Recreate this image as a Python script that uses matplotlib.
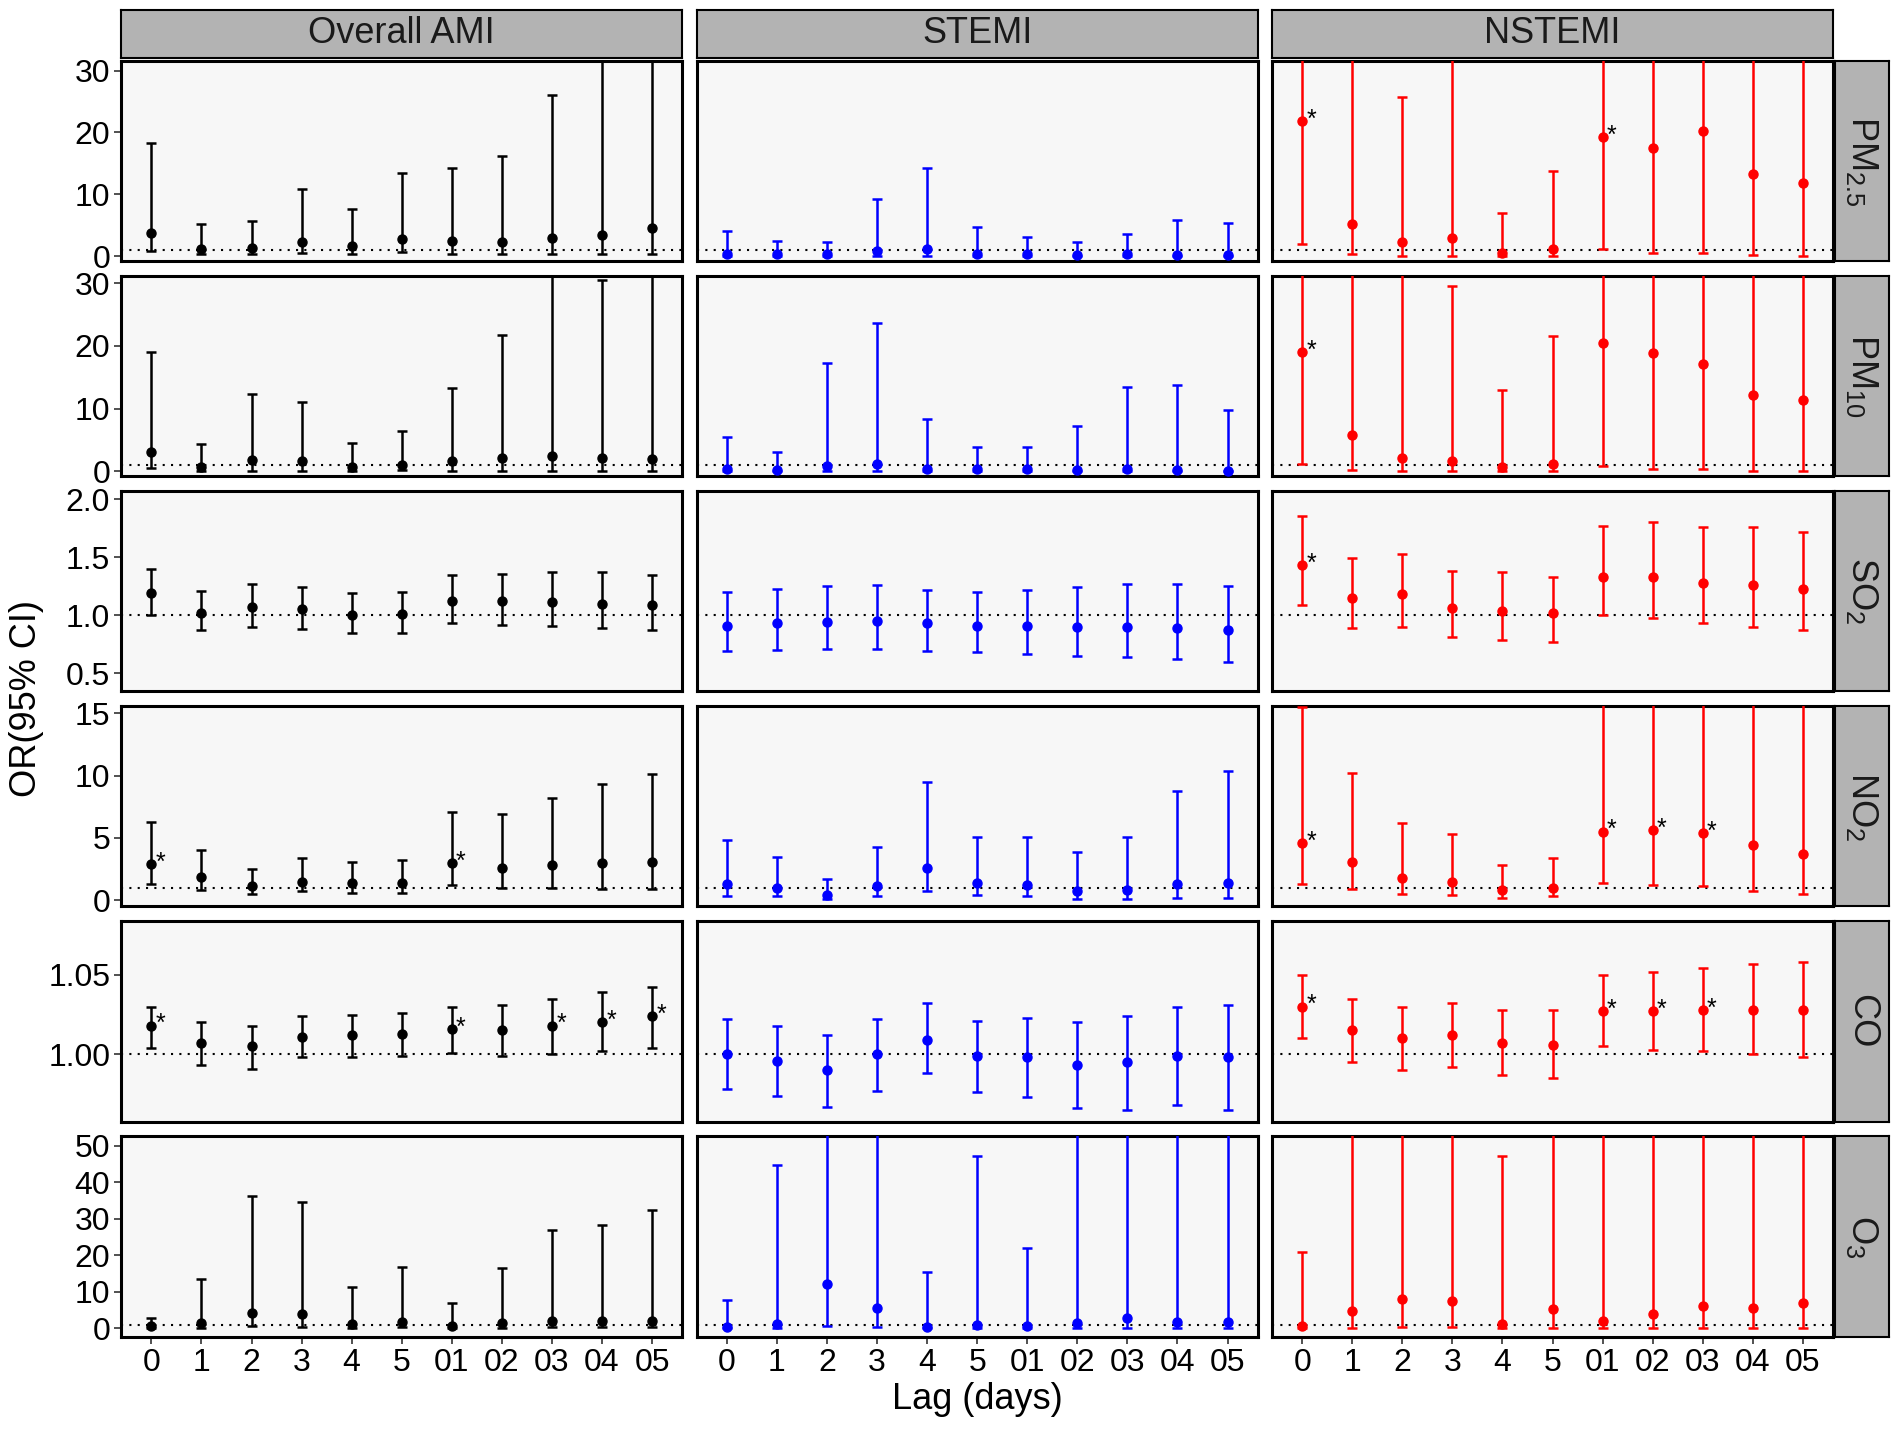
import numpy as np
import matplotlib
matplotlib.use("Agg")
import matplotlib.pyplot as plt

plt.rcParams['font.family'] = ['Liberation Sans', 'DejaVu Sans']
plt.rcParams['mathtext.default'] = 'regular'

lags = ['0', '1', '2', '3', '4', '5', '01', '02', '03', '04', '05']
groups = ['Overall AMI', 'STEMI', 'NSTEMI']
group_colors = ['black', '#0000FF', '#FF0000']
pollutants = ['PM$_{2.5}$', 'PM$_{10}$', 'SO$_{2}$', 'NO$_{2}$', 'CO', 'O$_{3}$']

# ---- PM2.5 ----
pm25_ami_or = [3.8, 1.2, 1.3, 2.3, 1.6, 2.8, 2.5, 2.3, 3.0, 3.4, 4.6]
pm25_ami_lo = [0.8, 0.3, 0.3, 0.5, 0.3, 0.6, 0.4, 0.3, 0.3, 0.3, 0.4]
pm25_ami_hi = [18.3, 5.2, 5.7, 10.8, 7.6, 13.5, 14.3, 16.2, 26.0, 45.0, 50.0]
pm25_st_or = [0.4, 0.3, 0.3, 0.8, 1.2, 0.4, 0.3, 0.2, 0.3, 0.2, 0.2]
pm25_st_lo = [0.05, 0.05, 0.05, 0.1, 0.1, 0.05, 0.03, 0.02, 0.02, 0.01, 0.01]
pm25_st_hi = [4.0, 2.5, 2.3, 9.3, 14.3, 4.7, 3.1, 2.3, 3.6, 5.9, 5.3]
pm25_nst_or = [21.8, 5.2, 2.3, 2.9, 0.5, 1.1, 19.2, 17.5, 20.3, 13.3, 11.8]
pm25_nst_lo = [2.0, 0.3, 0.1, 0.1, 0.05, 0.1, 1.2, 0.5, 0.5, 0.2, 0.1]
pm25_nst_hi = [60.0, 40.0, 25.8, 45.0, 7.0, 13.8, 60.0, 55.0, 60.0, 50.0, 48.0]

# ---- PM10 ----
pm10_ami_or = [3.1, 0.7, 1.8, 1.6, 0.6, 1.0, 1.6, 2.1, 2.5, 2.1, 2.0]
pm10_ami_lo = [0.5, 0.1, 0.1, 0.1, 0.1, 0.2, 0.1, 0.1, 0.1, 0.1, 0.1]
pm10_ami_hi = [19.0, 4.3, 12.3, 11.0, 4.5, 6.4, 13.3, 21.8, 40.0, 30.5, 38.0]
pm10_st_or = [0.3, 0.2, 0.8, 1.1, 0.4, 0.3, 0.3, 0.2, 0.3, 0.2, 0.1]
pm10_st_lo = [0.02, 0.01, 0.05, 0.05, 0.02, 0.02, 0.02, 0.01, 0.01, 0.01, 0.01]
pm10_st_hi = [5.5, 3.0, 17.2, 23.6, 8.4, 3.8, 3.9, 7.2, 13.5, 13.8, 9.8]
pm10_nst_or = [19.0, 5.8, 2.1, 1.6, 0.7, 1.2, 20.5, 18.9, 17.1, 12.2, 11.4]
pm10_nst_lo = [1.2, 0.2, 0.05, 0.05, 0.05, 0.05, 0.8, 0.4, 0.3, 0.1, 0.05]
pm10_nst_hi = [60.0, 45.0, 40.0, 29.6, 13.0, 21.6, 60.0, 55.0, 55.0, 50.0, 50.0]

# ---- SO2 ----
so2_ami_or = [1.19, 1.02, 1.07, 1.05, 1.00, 1.01, 1.12, 1.12, 1.11, 1.10, 1.09]
so2_ami_lo = [1.00, 0.87, 0.90, 0.88, 0.85, 0.85, 0.93, 0.92, 0.91, 0.89, 0.87]
so2_ami_hi = [1.40, 1.21, 1.27, 1.24, 1.19, 1.20, 1.35, 1.36, 1.37, 1.37, 1.35]
so2_st_or = [0.91, 0.93, 0.94, 0.95, 0.93, 0.91, 0.91, 0.90, 0.90, 0.89, 0.87]
so2_st_lo = [0.69, 0.70, 0.71, 0.71, 0.69, 0.68, 0.67, 0.65, 0.64, 0.62, 0.60]
so2_st_hi = [1.20, 1.23, 1.25, 1.26, 1.22, 1.20, 1.22, 1.24, 1.27, 1.27, 1.25]
so2_nst_or = [1.43, 1.15, 1.18, 1.06, 1.04, 1.02, 1.33, 1.33, 1.28, 1.26, 1.23]
so2_nst_lo = [1.09, 0.89, 0.90, 0.81, 0.79, 0.77, 1.00, 0.98, 0.93, 0.90, 0.87]
so2_nst_hi = [1.86, 1.49, 1.53, 1.38, 1.37, 1.33, 1.77, 1.80, 1.76, 1.76, 1.72]

# ---- NO2 ----
no2_ami_or = [2.9, 1.9, 1.1, 1.5, 1.4, 1.4, 3.0, 2.6, 2.8, 3.0, 3.1]
no2_ami_lo = [1.3, 0.8, 0.5, 0.7, 0.6, 0.6, 1.2, 1.0, 1.0, 0.9, 0.9]
no2_ami_hi = [6.3, 4.0, 2.5, 3.4, 3.1, 3.2, 7.1, 6.9, 8.2, 9.3, 10.1]
no2_st_or = [1.3, 1.0, 0.4, 1.1, 2.6, 1.4, 1.2, 0.7, 0.8, 1.3, 1.4]
no2_st_lo = [0.3, 0.3, 0.1, 0.3, 0.7, 0.4, 0.3, 0.1, 0.1, 0.2, 0.2]
no2_st_hi = [4.8, 3.5, 1.7, 4.3, 9.5, 5.1, 5.1, 3.9, 5.1, 8.8, 10.4]
no2_nst_or = [4.6, 3.1, 1.8, 1.5, 0.8, 1.0, 5.5, 5.6, 5.4, 4.4, 3.7]
no2_nst_lo = [1.3, 0.9, 0.5, 0.4, 0.2, 0.3, 1.4, 1.2, 1.1, 0.7, 0.5]
no2_nst_hi = [15.5, 10.2, 6.2, 5.3, 2.8, 3.4, 22.0, 25.0, 26.0, 27.0, 26.0]

# ---- CO ----
co_ami_or = [1.018, 1.007, 1.005, 1.011, 1.012, 1.013, 1.016, 1.015, 1.018, 1.020, 1.024]
co_ami_lo = [1.004, 0.993, 0.991, 0.998, 0.998, 0.999, 1.001, 0.999, 1.000, 1.002, 1.004]
co_ami_hi = [1.030, 1.020, 1.018, 1.024, 1.025, 1.026, 1.030, 1.031, 1.035, 1.039, 1.042]
co_st_or = [1.000, 0.996, 0.990, 1.000, 1.009, 0.999, 0.998, 0.993, 0.995, 0.999, 0.998]
co_st_lo = [0.978, 0.974, 0.967, 0.977, 0.988, 0.976, 0.973, 0.966, 0.965, 0.968, 0.965]
co_st_hi = [1.022, 1.018, 1.012, 1.022, 1.032, 1.021, 1.023, 1.020, 1.024, 1.030, 1.031]
co_nst_or = [1.030, 1.015, 1.010, 1.012, 1.007, 1.006, 1.027, 1.027, 1.028, 1.028, 1.028]
co_nst_lo = [1.010, 0.995, 0.990, 0.992, 0.987, 0.985, 1.005, 1.003, 1.002, 1.000, 0.998]
co_nst_hi = [1.050, 1.035, 1.030, 1.032, 1.028, 1.028, 1.050, 1.052, 1.054, 1.057, 1.058]

# ---- O3 ----
o3_ami_or = [0.5, 1.3, 4.1, 3.9, 1.2, 1.7, 0.7, 1.3, 2.0, 1.9, 2.0]
o3_ami_lo = [0.1, 0.1, 0.5, 0.4, 0.1, 0.2, 0.05, 0.1, 0.2, 0.2, 0.2]
o3_ami_hi = [2.8, 13.5, 36.2, 34.7, 11.2, 16.8, 7.0, 16.5, 26.9, 28.3, 32.4]
o3_st_or = [0.2, 1.2, 12.0, 5.6, 0.3, 1.0, 0.5, 1.5, 2.8, 1.7, 1.6]
o3_st_lo = [0.01, 0.05, 0.5, 0.2, 0.01, 0.05, 0.02, 0.05, 0.1, 0.05, 0.05]
o3_st_hi = [7.6, 44.7, 90.0, 80.0, 15.5, 47.2, 22.0, 70.0, 85.0, 75.0, 70.0]
o3_nst_or = [0.5, 4.6, 8.1, 7.5, 1.2, 5.3, 2.0, 4.0, 6.2, 5.6, 6.9]
o3_nst_lo = [0.05, 0.05, 0.2, 0.2, 0.05, 0.05, 0.02, 0.05, 0.05, 0.05, 0.05]
o3_nst_hi = [20.8, 80.0, 90.0, 85.0, 47.2, 80.0, 75.0, 80.0, 90.0, 85.0, 90.0]

# significant lags (index into lags) per panel
stars = {
    (0, 2): [0, 6],
    (1, 2): [0],
    (2, 2): [0],
    (3, 0): [0, 6], (3, 2): [0, 6, 7, 8],
    (4, 0): [0, 6, 8, 9, 10], (4, 2): [0, 6, 7, 8],
}

panels = [
    [(pm25_ami_or, pm25_ami_lo, pm25_ami_hi), (pm25_st_or, pm25_st_lo, pm25_st_hi), (pm25_nst_or, pm25_nst_lo, pm25_nst_hi)],
    [(pm10_ami_or, pm10_ami_lo, pm10_ami_hi), (pm10_st_or, pm10_st_lo, pm10_st_hi), (pm10_nst_or, pm10_nst_lo, pm10_nst_hi)],
    [(so2_ami_or, so2_ami_lo, so2_ami_hi), (so2_st_or, so2_st_lo, so2_st_hi), (so2_nst_or, so2_nst_lo, so2_nst_hi)],
    [(no2_ami_or, no2_ami_lo, no2_ami_hi), (no2_st_or, no2_st_lo, no2_st_hi), (no2_nst_or, no2_nst_lo, no2_nst_hi)],
    [(co_ami_or, co_ami_lo, co_ami_hi), (co_st_or, co_st_lo, co_st_hi), (co_nst_or, co_nst_lo, co_nst_hi)],
    [(o3_ami_or, o3_ami_lo, o3_ami_hi), (o3_st_or, o3_st_lo, o3_st_hi), (o3_nst_or, o3_nst_lo, o3_nst_hi)],
]

row_ylims = [(-0.8, 31.6), (-0.8, 31.2), (0.344, 2.073), (-0.5, 15.6), (0.9577, 1.0838), (-2.3, 52.6)]
row_yticks = [[0, 10, 20, 30], [0, 10, 20, 30], [0.5, 1.0, 1.5, 2.0], [0, 5, 10, 15], [1.00, 1.05], [0, 10, 20, 30, 40, 50]]
row_yticklabels = [['0', '10', '20', '30'], ['0', '10', '20', '30'], ['0.5', '1.0', '1.5', '2.0'],
                   ['0', '5', '10', '15'], ['1.00', '1.05'], ['0', '10', '20', '30', '40', '50']]

fig, axes = plt.subplots(6, 3, figsize=(19.02, 14.30), dpi=100,
                         gridspec_kw=dict(left=0.0638, right=0.9637, top=0.9576, bottom=0.0653,
                                          wspace=0.026, hspace=0.073))

x = np.arange(len(lags))
for r in range(6):
    for c in range(3):
        ax = axes[r, c]
        est, lo, hi = (np.array(v) for v in panels[r][c])
        ax.set_facecolor('#F7F7F7')
        ax.axhline(1, color='black', ls=(0, (1, 3)), lw=1.5, zorder=1)
        ax.errorbar(x, est, yerr=[est - lo, hi - est], fmt='o', color=group_colors[c],
                    ms=6.5, capsize=3.5, elinewidth=1.8, capthick=1.8, zorder=3)
        for i in stars.get((r, c), []):
            ax.annotate('*', (x[i], est[i]), xytext=(3, 1), textcoords='offset points',
                        ha='left', va='center', fontsize=18, color='black', zorder=4)
        ax.set_xlim(-0.6, 10.6)
        ax.set_ylim(*row_ylims[r])
        for s in ax.spines.values():
            s.set_linewidth(2.2)
            s.set_color('black')
        ax.set_xticks(x)
        ax.set_yticks(row_yticks[r])
        ax.tick_params(length=5, width=1.2, color='#333333', labelsize=23, labelcolor='black', pad=3)
        if c == 0:
            ax.set_yticklabels(row_yticklabels[r])
        else:
            ax.tick_params(axis='y', left=False, labelleft=False)
        if r == 5:
            ax.set_xticklabels(lags)
        else:
            ax.tick_params(axis='x', bottom=False, labelbottom=False)


def strip(rect, label, rotation=0):
    sax = fig.add_axes(rect)
    sax.set_facecolor('#B3B3B3')
    sax.set_xticks([])
    sax.set_yticks([])
    for s in sax.spines.values():
        s.set_linewidth(1.5)
        s.set_color('black')
    sax.text(0.5, 0.5, label, transform=sax.transAxes, ha='center', va='center',
             fontsize=26, rotation=rotation, color='#1A1A1A')


for c in range(3):
    b = axes[0, c].get_position()
    strip([b.x0, b.y1 + 0.0017, b.width, 0.0339], groups[c])
for r in range(6):
    b = axes[r, 2].get_position()
    strip([b.x1 + 0.0013, b.y0, 0.028, b.height], pollutants[r], rotation=-90)

fig.text(0.014, 0.5115, 'OR(95% CI)', rotation=90, ha='center', va='center', fontsize=26)
b = axes[5, 1].get_position()
fig.text((b.x0 + b.x1) / 2, 0.021, 'Lag (days)', ha='center', va='center', fontsize=26)

fig.savefig('out.png', dpi=100, facecolor='white')
